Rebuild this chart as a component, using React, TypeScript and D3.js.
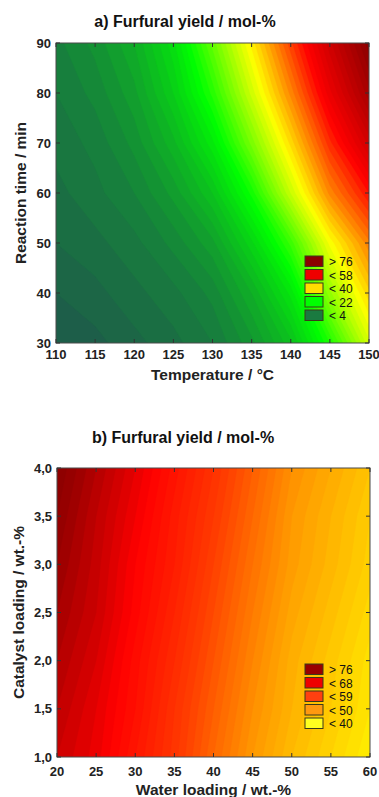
import React from 'react';
import * as d3 from 'd3';

// ---------- Data: panel a (Temperature vs Reaction time) ----------
const temperatures = [110, 115, 120, 125, 130, 135, 140, 145, 150];
const reactionTimes = [30, 40, 50, 60, 70, 80, 90];
// furfural yield (mol-%) for each reaction time row, columns = temperatures
const yieldA_t30 = [-3, -2, -0.5, 1, 3, 7, 13, 24, 37];
const yieldA_t40 = [-1.5, -0.5, 1, 2.5, 5, 10.5, 18.5, 32.5, 43];
const yieldA_t50 = [0, 1, 2.5, 5, 8.5, 16, 26, 39.5, 49];
const yieldA_t60 = [1, 2.5, 4.5, 8, 13.5, 23, 36, 48.5, 57];
const yieldA_t70 = [2, 3.5, 6.5, 11.5, 19, 30.5, 42.5, 55, 65];
const yieldA_t80 = [3, 5, 8.5, 15, 24.5, 36.5, 48.5, 61, 71.5];
const yieldA_t90 = [4, 6.5, 10.5, 17.5, 29, 41, 53.5, 65.5, 76];
const legendLabelsA = ['> 76', '< 58', '< 40', '< 22', '< 4'];

// ---------- Data: panel b (Water loading vs Catalyst loading) ----------
const waterLoadings = [20, 25, 30, 35, 40, 45, 50, 55, 60];
const catalystLoadings = [1.0, 1.5, 2.0, 2.5, 3.0, 3.5, 4.0];
const yieldB_c10 = [72, 69.5, 65, 60.5, 55, 50, 46, 43, 40];
const yieldB_c15 = [73, 70, 66, 61, 56, 51, 47, 44, 41];
const yieldB_c20 = [74, 71, 66.5, 62, 57, 52, 47.5, 44.5, 41.5];
const yieldB_c25 = [75, 72, 67.5, 63, 58, 53, 48.5, 45.5, 42.5];
const yieldB_c30 = [76, 72.5, 68, 64, 59, 54, 49.5, 46.5, 43.5];
const yieldB_c35 = [77, 73, 69, 64.5, 60, 55, 50, 47, 44];
const yieldB_c40 = [78, 74, 70, 65.5, 61, 56, 51, 48, 45];
const legendLabelsB = ['> 76', '< 68', '< 59', '< 50', '< 40'];

const FONT = "'Liberation Sans', Arial, Helvetica, sans-serif";

const commaFmt = d3.formatLocale({ decimal: ',', thousands: '.', grouping: [3], currency: ['', ''] }).format('.1f');

type Box = { l: number; r: number; t: number; b: number };

function ContourPanel(props: any) {
  const {
    id, box, xVals, yVals, rows, yFmt, color, step, min, max,
    title, titleX, titleY, xLabel, xLabelY, yLabel, yLabelX, tickLabelY,
    legendLabels, legendColors, legendTop,
  } = props;
  const bx: Box = box;
  const x = d3.scaleLinear().domain([xVals[0], xVals[xVals.length - 1]]).range([bx.l, bx.r]);
  const y = d3.scaleLinear().domain([yVals[0], yVals[yVals.length - 1]]).range([bx.b, bx.t]);
  const nx = xVals.length;
  const ny = yVals.length;
  const values: number[] = ([] as number[]).concat(...rows);
  const thresholds = d3.range(min, max, step);
  const contours = d3.contours().size([nx, ny]).thresholds(thresholds)(values);
  const dxv = xVals[1] - xVals[0];
  const dyv = yVals[1] - yVals[0];
  const proj = d3.geoTransform({
    point: function (this: any, px: number, py: number) {
      this.stream.point(x(xVals[0] + (px - 0.5) * dxv), y(yVals[0] + (py - 0.5) * dyv));
    },
  });
  const path = d3.geoPath(proj as any);
  const tickLen = 4;
  const rowH = 13.5;
  const boxH = 10.5;
  return (
    <g>
      <defs>
        <clipPath id={id}>
          <rect x={bx.l} y={bx.t} width={bx.r - bx.l} height={bx.b - bx.t} />
        </clipPath>
      </defs>
      <g clipPath={`url(#${id})`}>
        {contours.map((c: any, i: number) => (
          <path key={i} d={path(c as any) || ''} fill={color(c.value + step / 2)} stroke={color(c.value + step / 2)} strokeWidth={0.4} />
        ))}
      </g>
      <rect x={bx.l} y={bx.t} width={bx.r - bx.l} height={bx.b - bx.t} fill="none" stroke="#4a4a4a" strokeWidth={1} />
      {xVals.map((v: number) => (
        <g key={'xt' + v}>
          <line x1={x(v)} x2={x(v)} y1={bx.b} y2={bx.b - tickLen} stroke="#333" />
          <line x1={x(v)} x2={x(v)} y1={bx.t} y2={bx.t + tickLen} stroke="#333" />
          <text x={x(v)} y={tickLabelY} textAnchor="middle" fontFamily={FONT} fontWeight="bold" fontSize={13} fill="#222">{v}</text>
        </g>
      ))}
      {yVals.map((v: number) => (
        <g key={'yt' + v}>
          <line x1={bx.l} x2={bx.l + tickLen} y1={y(v)} y2={y(v)} stroke="#333" />
          <line x1={bx.r} x2={bx.r - tickLen} y1={y(v)} y2={y(v)} stroke="#333" />
          <text x={bx.l - 5} y={y(v) + 4.5} textAnchor="end" fontFamily={FONT} fontWeight="bold" fontSize={13} fill="#222">{yFmt(v)}</text>
        </g>
      ))}
      <text x={titleX} y={titleY} textAnchor="middle" fontFamily={FONT} fontWeight="bold" fontSize={16} fill="#111">{title}</text>
      <text x={(bx.l + bx.r) / 2} y={xLabelY} textAnchor="middle" fontFamily={FONT} fontWeight="bold" fontSize={15.5} fill="#222">{xLabel}</text>
      <text transform={`translate(${yLabelX},${(bx.t + bx.b) / 2}) rotate(-90)`} textAnchor="middle" fontFamily={FONT} fontWeight="bold" fontSize={15.5} fill="#222">{yLabel}</text>
      {legendLabels.map((lab: string, i: number) => (
        <g key={'lg' + i}>
          <rect x={305} y={legendTop + i * rowH} width={18} height={boxH} fill={legendColors[i]} stroke="#3a3a1a" strokeWidth={1} />
          <text x={329} y={legendTop + i * rowH + boxH - 0.5} fontFamily={FONT} fontSize={12} fill="#111">{lab}</text>
        </g>
      ))}
    </g>
  );
}

export default function App() {
  const colorA = d3.scaleLinear<string>()
    .domain([-3, 4, 22, 40, 58, 76, 90])
    .range(['#1e5a4a', '#17803c', '#00ff00', '#ffff00', '#ff0000', '#8a0000', '#700000'])
    .clamp(true);
  const colorB = d3.scaleLinear<string>()
    .domain([38, 40, 50, 59, 68, 76, 82])
    .range(['#ffff00', '#ffee00', '#ff9900', '#ff4000', '#ff0000', '#990000', '#700000'])
    .clamp(true);
  const rowsA = [yieldA_t30, yieldA_t40, yieldA_t50, yieldA_t60, yieldA_t70, yieldA_t80, yieldA_t90];
  const rowsB = [yieldB_c10, yieldB_c15, yieldB_c20, yieldB_c25, yieldB_c30, yieldB_c35, yieldB_c40];
  return (
    <svg width={379} height={797} style={{ position: 'absolute', left: 0, top: 0, background: '#fff' }}>
      <rect width={379} height={797} fill="#fff" />
      <ContourPanel
        id="clipA"
        box={{ l: 56, r: 369, t: 43, b: 343 }}
        xVals={temperatures}
        yVals={reactionTimes}
        rows={rowsA}
        yFmt={(v: number) => String(v)}
        color={colorA}
        step={1.5}
        min={-4.5}
        max={82}
        title="a) Furfural yield / mol-%"
        titleX={185}
        titleY={27}
        xLabel="Temperature / °C"
        xLabelY={380}
        yLabel="Reaction time / min"
        yLabelX={26}
        tickLabelY={359}
        legendLabels={legendLabelsA}
        legendColors={['#8b0000', '#ee0000', '#ffdd00', '#00ff00', '#1a7a40']}
        legendTop={256}
      />
      <ContourPanel
        id="clipB"
        box={{ l: 57, r: 370, t: 468, b: 757 }}
        xVals={waterLoadings}
        yVals={catalystLoadings}
        rows={rowsB}
        yFmt={commaFmt}
        color={colorB}
        step={1}
        min={37}
        max={82}
        title="b) Furfural yield / mol-%"
        titleX={183}
        titleY={443}
        xLabel="Water loading / wt.-%"
        xLabelY={795}
        yLabel="Catalyst loading / wt.-%"
        yLabelX={24}
        tickLabelY={776}
        legendLabels={legendLabelsB}
        legendColors={['#990000', '#ee0000', '#ff4010', '#ff9910', '#ffff20']}
        legendTop={664}
      />
    </svg>
  );
}
